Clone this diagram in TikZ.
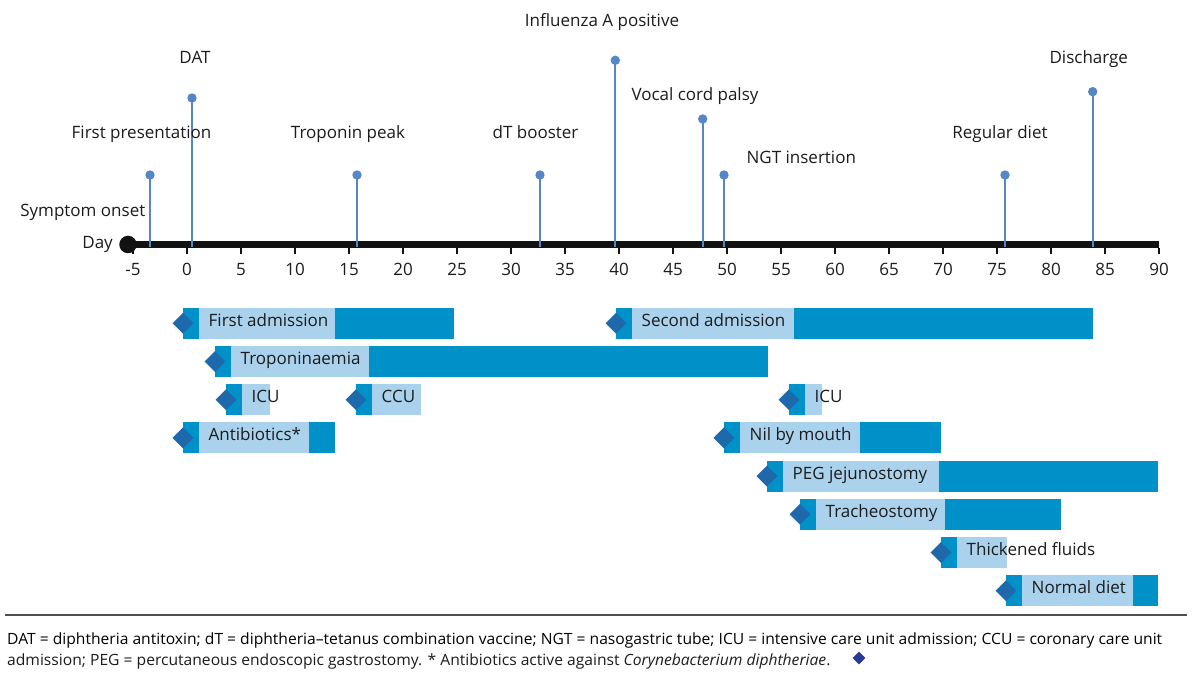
\documentclass[tikz,border=0pt]{standalone}
\usepackage{fontspec}
\usepackage{graphicx}
\setmainfont{Open Sans}
\usetikzlibrary{shapes.geometric}
\definecolor{stemblue}{RGB}{86,134,198}
\definecolor{bardark}{RGB}{0,145,200}
\definecolor{barlight}{RGB}{170,210,236}
\definecolor{diamblue}{RGB}{30,104,172}
\definecolor{navy}{RGB}{40,58,150}
\definecolor{ink}{RGB}{28,28,28}
\definecolor{rulegray}{RGB}{80,80,80}
\newsavebox\notebox
\newlength\notew
\newcommand\tlbar[6]{%
  \pgfmathsetmacro\yc{323.3+38.2*(#5-1)}
  \fill[bardark] (#2,\yc-15.5) rectangle (#4,\yc+15.5);
  \fill[barlight] (#2+15.5,\yc-15.5) rectangle (#3,\yc+15.5);
  \node[marker] (#1-mark) at (#2,\yc) {};
  \node[lbl, anchor=base west] (#1) at (#2+25.5,\yc+3) {#6};
}
\begin{document}
\sbox\notebox{\fontsize{15.5}{18}\selectfont DAT = diphtheria antitoxin; dT = diphtheria–tetanus combination vaccine; NGT = nasogastric tube; ICU = intensive care unit admission; CCU = coronary care unit}%
\setlength\notew{\wd\notebox}%
\begin{tikzpicture}[x=1pt,y=-1pt,
  lbl/.style={inner sep=0pt, text=ink, font=\fontsize{17}{20}\selectfont},
  dot/.style={circle, fill=stemblue, inner sep=0pt, minimum size=9.4pt},
  stem/.style={stemblue, line width=2pt},
  marker/.style={diamond, fill=diamblue, inner sep=0pt, minimum width=21pt, minimum height=21pt},
  notetext/.style={inner sep=0pt, text=ink, anchor=base west}
 ]
\useasboundingbox (0,0) rectangle (1200,679);
\fill[white] (0,0) rectangle (1200,679);

% axis
\coordinate (axL) at (128,244.5);
\coordinate (axR) at (1159,244.5);
\draw[line width=7pt, black!93] (axL) -- (axR);
\foreach \d in {-5,0,...,90} {
  \pgfmathsetmacro\xx{187+10.8*\d}
  \draw[line width=2pt, black!93] (\xx,248) -- (\xx,254.5);
  \node[lbl, anchor=base] (tick\d) at (\xx,276) {\d};
}
\node[circle, fill=black!93, minimum size=17.5pt, inner sep=0pt] (onset) at (axL) {};
\node[lbl, anchor=base east] (daylbl) at (113,248.7) {Day};
\node[lbl, anchor=base east] (onsetlbl) at (145.5,216.7) {Symptom onset};

% events
\foreach \n/\x/\y in {first/150/175, dat/192/98, trop/357/175, dtb/540/175, flu/615.3/60.3, vocal/702.7/119, ngt/724/175, reg/1005/175, dis/1092.7/91.7} {
  \coordinate (\n-base) at (\x,247);
  \node[dot] (\n-dot) at (\x,\y) {};
  \draw[stem] (\n-base) -- (\n-dot.center);
}
\node[lbl, anchor=base] (first-lbl) at (141.5,138.3) {First presentation};
\node[lbl, anchor=base] (dat-lbl) at (195,63.3) {DAT};
\node[lbl, anchor=base] (trop-lbl) at (348,138.3) {Troponin peak};
\node[lbl, anchor=base] (dtb-lbl) at (535.5,138.3) {dT booster};
\node[lbl, anchor=base] (flu-lbl) at (602,26.5) {Influenza A positive};
\node[lbl, anchor=base] (vocal-lbl) at (695,101) {Vocal cord palsy};
\node[lbl, anchor=base] (ngt-lbl) at (801.3,163.3) {NGT insertion};
\node[lbl, anchor=base] (reg-lbl) at (1000,138.3) {Regular diet};
\node[lbl, anchor=base] (dis-lbl) at (1088.8,63.3) {Discharge};

% bars
\tlbar{adm1}{183}{335}{454}{1}{First admission}
\tlbar{adm2}{616}{794}{1093}{1}{Second admission}
\tlbar{tropo}{215}{369}{767.5}{2}{Troponinaemia}
\tlbar{icu1}{226}{270}{270}{3}{ICU}
\tlbar{ccu}{356}{421}{421}{3}{CCU}
\tlbar{icu2}{789}{822}{822}{3}{ICU}
\tlbar{abx}{183}{309}{335}{4}{Antibiotics*}
\tlbar{nbm}{724}{860}{941}{4}{Nil by mouth}
\tlbar{peg}{767}{939}{1158}{5}{PEG jejunostomy}
\tlbar{trach}{800}{945}{1061}{6}{Tracheostomy}
\tlbar{thick}{941}{1007}{1007}{7}{Thickened fluids}
\tlbar{diet}{1006}{1133}{1158}{8}{Normal diet}

% footnote
\coordinate (ruleL) at (5,615);
\coordinate (ruleR) at (1187,615);
\draw[rulegray, line width=1.5pt] (ruleL) -- (ruleR);
\pgfmathsetmacro\nsx{1155/\notew}
\node[notetext] (note1) at (7,644) {\scalebox{\nsx}[1]{\usebox\notebox}};
\node[notetext] (note2) at (7,665.5) {\scalebox{\nsx}[1]{\fontsize{15.5}{18}\selectfont admission; PEG = percutaneous endoscopic gastrostomy. * Antibiotics active against \textit{Corynebacterium diphtheriae}.}};
\node[diamond, fill=navy, minimum width=13pt, minimum height=13pt, inner sep=0pt] (notemark) at (859,658) {};
\end{tikzpicture}
\end{document}
